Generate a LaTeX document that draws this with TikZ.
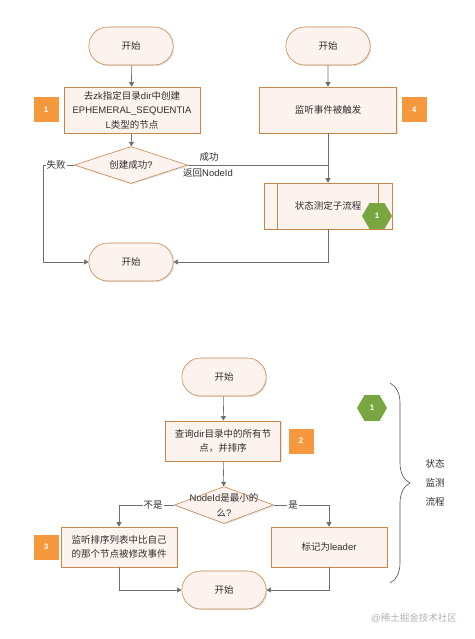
\documentclass[tikz,border=0pt]{standalone}
\usepackage{fontspec}
\setmainfont{Noto Sans CJK SC}
\newfontfamily\latf{Liberation Sans}
\newcommand{\lt}[1]{{\latf #1}}
\usetikzlibrary{shapes.geometric,shapes.misc,arrows.meta,decorations.pathreplacing,shadows}
\definecolor{boxfill}{HTML}{FDF3EE}
\definecolor{boxdraw}{HTML}{C8864A}
\definecolor{orangesq}{HTML}{F5993C}
\definecolor{hexgreen}{HTML}{79A641}
\definecolor{linegray}{HTML}{6E6E6E}
\definecolor{txt}{HTML}{2E2E2E}
\tikzset{
  shd/.style={drop shadow={shadow xshift=1.2pt,shadow yshift=-1.2pt,fill=black!30,opacity=0.35}},
  startbox/.style={rounded rectangle, draw=boxdraw, fill=boxfill, minimum width=91pt, minimum height=38pt, line width=0.6pt, shd},
  procbox/.style={rectangle, draw=boxdraw, fill=boxfill, align=center, line width=0.6pt, inner sep=2pt, shd},
  decbox/.style={diamond, draw=boxdraw, fill=boxfill, inner sep=0pt, line width=0.6pt, shd},
  numsq/.style={rectangle, fill=orangesq, text=white, minimum size=25pt, inner sep=0pt, font=\latf\bfseries\fontsize{8}{8}\selectfont},
  hexnode/.style={regular polygon, regular polygon sides=6, fill=hexgreen, minimum size=30pt, inner sep=0pt, text=white, font=\latf\bfseries\fontsize{8}{8}\selectfont},
  conn/.style={draw=linegray, line width=0.6pt, -{Triangle[length=4.5pt,width=5pt]}},
  plainln/.style={draw=linegray, line width=0.6pt},
  lbl/.style={fill=white, inner sep=1pt, text=txt},
}
\begin{document}
\begin{tikzpicture}[x=1pt,y=-1pt, font=\fontsize{9.5}{14.5}\selectfont, text=txt]
\useasboundingbox (0,0) rectangle (474,639);
% ---- top part ----
\node[startbox] (s1) at (131,46) {开始};
\node[startbox] (s2) at (328,46) {开始};
\node[procbox, minimum width=136pt, minimum height=46pt] (b1) at (132,110) {去\lt{zk}指定目录\lt{dir}中创建\\\lt{EPHEMERAL\_SEQUENTIA}\\\lt{L}类型的节点};
\node[numsq] (n1) at (46,110) {1};
\node[procbox, minimum width=137pt, minimum height=46pt] (b4) at (328,110) {监听事件被触发};
\node[numsq] (n4) at (414,110) {4};
\node[decbox, minimum width=113pt, minimum height=37pt, label={[text=txt]center:创建成功\lt{?}}] (d1) at (131,165) {};
\node[procbox, minimum width=128pt, minimum height=46pt] (sub) at (328,206) {状态测定子流程};
\draw[boxdraw, line width=0.6pt] ([xshift=14pt]sub.north west) -- ([xshift=14pt]sub.south west);
\draw[boxdraw, line width=0.6pt] ([xshift=-14pt]sub.north east) -- ([xshift=-14pt]sub.south east);
\node[hexnode] (h1) at (377,216) {1};
\node[startbox] (s3) at (131,262) {开始};

\draw[conn] (s1) -- (b1);
\draw[conn] (b1) -- (d1);
\draw[conn] (s2) -- (b4);
\draw[conn] (b4) -- (sub);
\coordinate (cfail) at (43,165);
\draw[conn] (d1.west) -- (cfail) |- (s3.west);
\node[lbl] (lfail) at (56,165) {失败};
\draw[plainln] (d1.east) -- (sub.north |- d1.east);
\node[text=txt, inner sep=0pt] (lok) at (209,157) {成功};
\node[text=txt, inner sep=0pt] (lret) at (208,173) {返回\lt{NodeId}};
\draw[conn] (sub.south) |- (s3.east);

% ---- bottom part ----
\node[startbox] (s4) at (224,377) {开始};
\node[procbox, minimum width=115pt, minimum height=40pt] (b2) at (223,441) {查询\lt{dir}目录中的所有节\\点，并排序};
\node[numsq] (n2) at (301,441) {2};
\node[decbox, minimum width=99pt, minimum height=37pt, label={[text=txt, align=center, font=\fontsize{9.5}{15}\selectfont]center:\lt{NodeId}是最小的\\么\lt{?}}] (d2) at (224,505) {};
\node[procbox, minimum width=116pt, minimum height=40pt] (b3) at (119,547) {监听排序列表中比自己\\的那个节点被修改事件};
\node[numsq] (n3) at (46,547) {3};
\node[procbox, minimum width=116pt, minimum height=40pt] (b5) at (329,547) {标记为\lt{leader}};
\node[startbox] (s5) at (224,590) {开始};
\node[hexnode] (h2) at (372,408) {1};

\draw[conn] (s4) -- (b2);
\draw[conn] (b2) -- (d2);
\draw[conn] (d2.west) -| (b3.north);
\draw[conn] (d2.east) -| (b5.north);
\node[lbl] (lno) at (153,505) {不是};
\node[lbl] (lyes) at (293,505) {是};
\draw[conn] (b3.south) |- (s5.west);
\draw[conn] (b5.south) |- (s5.east);

% brace and its text
\draw[black!70, line width=0.6pt, decorate, decoration={brace, amplitude=20pt}] (390,383) -- (390,583);
\node[align=center, font=\fontsize{9.5}{19}\selectfont] (bt) at (435,483) {状态\\监测\\流程};

% watermark
\node[text=black!30, font=\fontsize{9.5}{10}\selectfont] (wm) at (414,618) {\lt{@}稀土掘金技术社区};
\end{tikzpicture}
\end{document}
